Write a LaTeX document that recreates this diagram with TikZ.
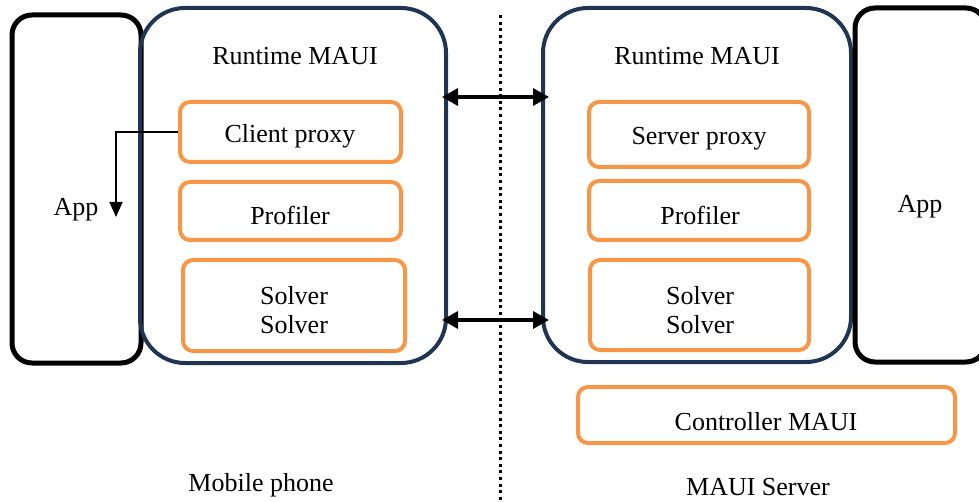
\documentclass[tikz,border=0pt]{standalone}
\usepackage{fontspec}
\setmainfont{Liberation Serif}
\usetikzlibrary{arrows.meta}
\definecolor{navy}{HTML}{1F3551}
\definecolor{orng}{HTML}{F79646}
\tikzset{
  lbl/.style={font=\fontsize{26}{30}\selectfont, inner sep=0pt, align=center, yshift=-2.5pt},
  appbox/.style={draw=black, line width=5pt, rounded corners=20pt, inner sep=0pt},
  rtbox/.style={draw=navy, line width=4pt, rounded corners=45pt, inner sep=0pt},
  modbox/.style={draw=orng, line width=4pt, rounded corners=10pt, inner sep=0pt},
  link/.style={line width=3.5pt, {Triangle[length=16pt,width=17pt]}-{Triangle[length=16pt,width=17pt]}},
}
\begin{document}
\begin{tikzpicture}[x=1pt, y=-1pt]
\useasboundingbox (0,0) rectangle (979,502);
\clip (0,0) rectangle (979,502);

% mobile side
\node[appbox, minimum width=129pt, minimum height=348pt] (appL) at (76.5,189) {};
\node[lbl] (appLt) at (76,207) {App};
\node[rtbox, minimum width=306pt, minimum height=355pt] (rtL) at (293,185.5) {};
\node[lbl] (rtLt) at (295,54) {Runtime MAUI};
\node[modbox, minimum width=221pt, minimum height=60pt] (cp) at (290.5,132) {};
\node[lbl] (cpt) at (290,134) {Client proxy};
\node[modbox, minimum width=221pt, minimum height=58pt] (profL) at (290.5,211) {};
\node[lbl] (profLt) at (290,213) {Profiler};
\node[modbox, minimum width=222pt, minimum height=91pt] (solL) at (294,305.5) {};
\node[lbl] (solLt) at (294,308) {Solver\\[-1pt]Solver};

% call from the client proxy back into the app
\coordinate (bend) at (116,132);
\coordinate (tipL) at (116,217);
\draw[line width=1.5pt, -{Triangle[length=15pt,width=13pt]}] (cp.west) -- (bend) -- (tipL);

% device / server divider
\coordinate (divT) at (500,15);
\coordinate (divB) at (500,502);
\draw[line width=3pt, dash pattern=on 3pt off 3.6pt] (divT) -- (divB);

% server side
\node[rtbox, minimum width=308pt, minimum height=354pt] (rtR) at (697,185) {};
\node[lbl] (rtRt) at (697,54) {Runtime MAUI};
\node[modbox, minimum width=220pt, minimum height=65pt] (sp) at (699,134.5) {};
\node[lbl] (spt) at (699,136) {Server proxy};
\node[modbox, minimum width=220pt, minimum height=59pt] (profR) at (699,210.5) {};
\node[lbl] (profRt) at (700,213) {Profiler};
\node[modbox, minimum width=219pt, minimum height=90pt] (solR) at (699.5,305) {};
\node[lbl] (solRt) at (700,308) {Solver\\[-1pt]Solver};
\node[appbox, minimum width=131pt, minimum height=354pt] (appR) at (920.5,185) {};
\node[lbl] (appRt) at (920,204) {App};
\node[modbox, minimum width=377pt, minimum height=56pt] (ctrl) at (766.5,415) {};
\node[lbl] (ctrlt) at (766,419) {Controller MAUI};

% runtime links
\coordinate (l1a) at (442,97);
\coordinate (l1b) at (549,97);
\coordinate (l2a) at (442,320);
\coordinate (l2b) at (549,320);
\draw[link] (l1a) -- (l1b);
\draw[link] (l2a) -- (l2b);

% captions
\node[lbl] (capL) at (261,483) {Mobile phone};
\node[lbl] (capR) at (758,485) {MAUI Server};
\end{tikzpicture}
\end{document}
